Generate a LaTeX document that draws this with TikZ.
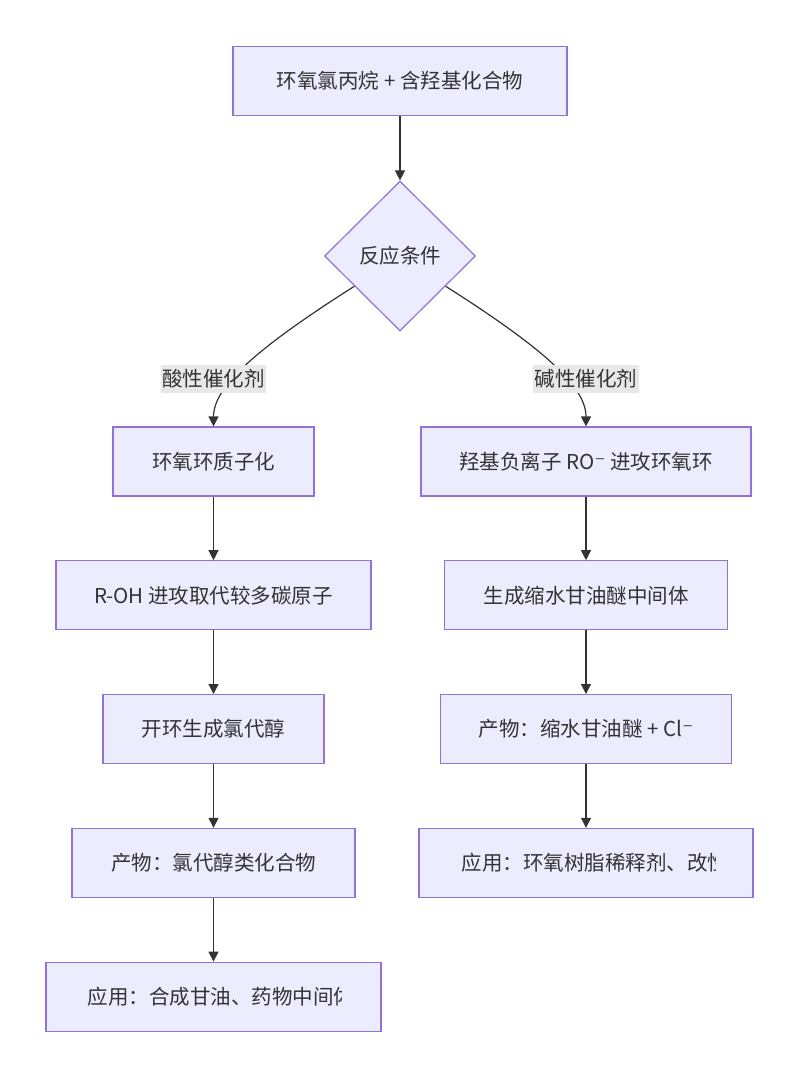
\documentclass[tikz,border=0pt]{standalone}
\usepackage{fontspec}
\setmainfont{Noto Sans CJK SC}
\newfontfamily\supfont{DejaVu Sans}
\usetikzlibrary{shapes.geometric, arrows.meta, positioning, calc}
\definecolor{boxfill}{HTML}{ECECFF}
\definecolor{boxline}{HTML}{9370DB}
\definecolor{edgeline}{HTML}{333333}
\definecolor{labelfill}{HTML}{E8E8E8}
\tikzstyle{block} = [rectangle, draw=boxline, fill=boxfill, line width=1.2pt,
    minimum height=69pt, text=edgeline, inner sep=0pt]
\tikzstyle{decision} = [diamond, draw=boxline, fill=boxfill, line width=1.2pt,
    minimum width=151pt, minimum height=150pt, inner sep=0pt, text=edgeline]
\tikzstyle{edgelabel} = [fill=labelfill, inner sep=1.5pt, text=edgeline,
    minimum height=28pt]
\tikzstyle{arrow} = [-{Triangle[length=10pt, width=10pt]}, line width=1.2pt, draw=edgeline]
\newcommand{\minus}{{\supfont ⁻}}

\begin{document}
\begin{tikzpicture}[x=1pt, y=-1pt, node distance=63.6pt,
    every node/.style={font=\fontsize{20.5pt}{24pt}\selectfont}]
  \useasboundingbox (0,0) rectangle (800,1077);
  \node[block, minimum width=334pt] (top) at (400,81) {环氧氯丙烷 + 含羟基化合物};
  \node[decision] (cond) at (400,256) {反应条件};

  % acid route
  \node[block, minimum width=201pt] (l1) at (213.5,461.5) {环氧环质子化};
  \node[block, minimum width=315pt, below=of l1] (l2) {R-OH 进攻取代较多碳原子};
  \node[block, minimum width=221pt, below=of l2] (l3) {开环生成氯代醇};
  \node[block, minimum width=283pt, below=of l3] (l4) {产物：氯代醇类化合物};
  \node[block, minimum width=335pt, below=of l4] (l5) {};
  \begin{scope}
    \clip (l5.south west) rectangle ($(l5.north east)+(-40pt,0)$);
    \node[anchor=west, text=edgeline] (l5txt) at ($(l5.west)+(39pt,0)$) {应用：合成甘油、药物中间体};
  \end{scope}

  % base route
  \node[block, minimum width=330pt] (r1) at (586,461.5) {羟基负离子 RO\minus{} 进攻环氧环};
  \node[block, minimum width=283pt, below=of r1] (r2) {生成缩水甘油醚中间体};
  \node[block, minimum width=291pt, below=of r2] (r3) {产物：缩水甘油醚 + Cl\minus};
  \node[block, minimum width=334pt, below=of r3] (r4) {};
  \begin{scope}
    \clip (r4.south west) rectangle ($(r4.north east)+(-38pt,0)$);
    \node[anchor=west, text=edgeline] (r4txt) at ($(r4.west)+(40pt,0)$) {应用：环氧树脂稀释剂、改性};
  \end{scope}

  \draw[arrow] (top) -- (cond);
  \draw[arrow] ($(cond.west)!0.4!(cond.south)$) .. controls (262,345) and (213.5,385) .. (l1.north);
  \draw[arrow] ($(cond.east)!0.4!(cond.south)$) .. controls (538,345) and (586,385) .. (r1.north);
  \draw[arrow] (l1) -- (l2); \draw[arrow] (l2) -- (l3);
  \draw[arrow] (l3) -- (l4); \draw[arrow] (l4) -- (l5);
  \draw[arrow] (r1) -- (r2); \draw[arrow] (r2) -- (r3);
  \draw[arrow] (r3) -- (r4);
  % edge labels
  \node[edgelabel] (acid) at (213.5,379) {酸性催化剂};
  \node[edgelabel] (base) at (586,379) {碱性催化剂};
\end{tikzpicture}
\end{document}
